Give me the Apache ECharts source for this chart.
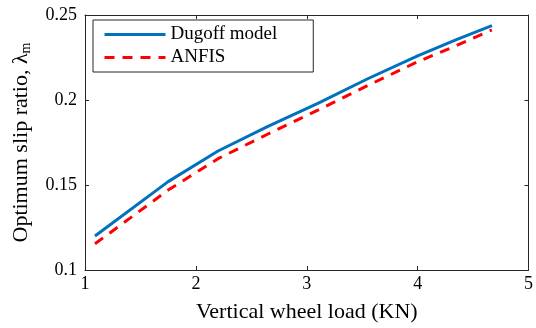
<!DOCTYPE html>
<html><head><meta charset="utf-8">
<script src="https://cdn.jsdelivr.net/npm/echarts@6/dist/echarts.min.js"></script>
<style>html,body{margin:0;padding:0;background:#fff}#c{width:536px;height:328px}</style>
</head><body><div id="c"></div>
<script>
const loadKN = [1.09, 1.75, 2.2, 2.65, 3.1, 3.55, 4.0, 4.35, 4.67];
const dugoff = [0.120, 0.152, 0.170, 0.1845, 0.198, 0.2125, 0.226, 0.2355, 0.2437];
const anfis  = [0.1154, 0.147, 0.1655, 0.180, 0.194, 0.2085, 0.2225, 0.232, 0.2412];
const seriesNames = ['Dugoff model', 'ANFIS'];
const font = 'Liberation Serif';
const chart = echarts.init(document.getElementById('c'));
const axLine = {show: true, lineStyle: {color: '#262626', width: 1}};
const tick = {inside: true, length: 4, lineStyle: {color: '#262626'}};
chart.setOption({
  animation: false,
  grid: {left: 85, right: 3, top: 15, bottom: 58},
  legend: {
    orient: 'vertical', left: 93, top: 20,
    data: seriesNames,
    borderColor: '#262626', borderWidth: 1, padding: [5, 36, 5, 10],
    itemWidth: 61, itemHeight: 14, itemGap: 4,
    itemStyle: {opacity: 0},
    lineStyle: {width: 3},
    textStyle: {fontFamily: font, fontSize: 19, color: '#000'},
    backgroundColor: '#fff'
  },
  xAxis: [{
    type: 'value', min: 1, max: 5, interval: 1,
    axisLine: axLine, axisTick: tick,
    splitLine: {show: false},
    axisLabel: {fontFamily: font, fontSize: 18, color: '#000', margin: 5},
    name: 'Vertical wheel load (KN)', nameLocation: 'middle', nameGap: 31,
    nameTextStyle: {fontFamily: font, fontSize: 22, color: '#000'}
  }, {
    type: 'value', min: 1, max: 5, interval: 1, position: 'top',
    axisLine: axLine, axisTick: tick,
    axisLabel: {show: false}, splitLine: {show: false}
  }],
  yAxis: [{
    type: 'value', min: 0.1, max: 0.25, interval: 0.05,
    axisLine: axLine, axisTick: tick,
    splitLine: {show: false},
    axisLabel: {fontFamily: font, fontSize: 18, color: '#000', margin: 8},
    name: 'Optimum slip ratio, λ{sub|m}', nameLocation: 'middle', nameGap: 52,
    nameTextStyle: {fontFamily: font, fontSize: 22, color: '#000',
      rich: {sub: {fontFamily: font, fontSize: 14, color: '#000', verticalAlign: 'bottom', padding: [10, 0, 0, 0]}}}
  }, {
    type: 'value', min: 0.1, max: 0.25, interval: 0.05, position: 'right',
    axisLine: axLine, axisTick: tick,
    axisLabel: {show: false}, splitLine: {show: false}
  }],
  series: [{
    name: seriesNames[0], type: 'line', symbol: 'none',
    data: loadKN.map((x, i) => [x, dugoff[i]]),
    lineStyle: {color: '#0072BD', width: 3}, itemStyle: {color: '#0072BD'}
  }, {
    name: seriesNames[1], type: 'line', symbol: 'none',
    data: loadKN.map((x, i) => [x, anfis[i]]),
    lineStyle: {color: '#FF0000', width: 3, type: [10, 8]}, itemStyle: {color: '#FF0000'}
  }]
});
</script></body></html>
